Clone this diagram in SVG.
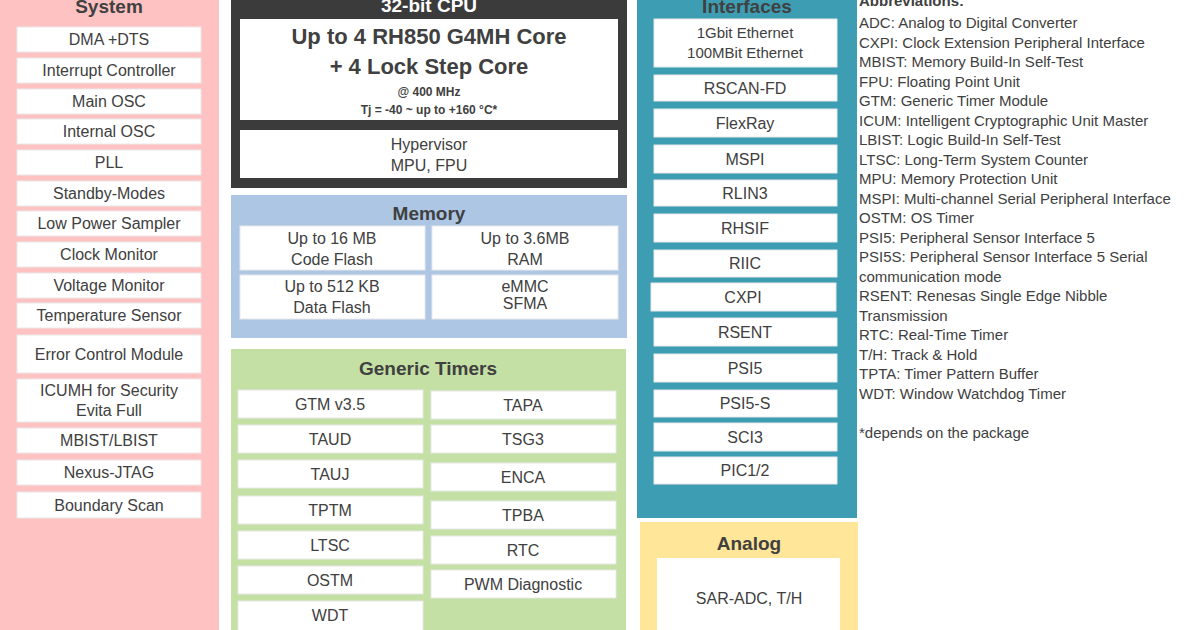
<svg xmlns="http://www.w3.org/2000/svg" width="1200" height="630" viewBox="0 0 1200 630">
<style>
text{font-family:"Liberation Sans",Arial,sans-serif;fill:#404040;text-anchor:middle}
.b{fill:#fff;stroke:#e8e8e8;stroke-width:1}
.t{font-size:16px}
.h{font-size:19px;font-weight:bold}
.a{font-size:15px;text-anchor:start}
</style>
<rect width="1200" height="630" fill="#fff"/>
<g id="system">
<rect x="0" y="-10" width="219" height="650" fill="#ffc2c2"/>
<text class="h" x="109" y="13">System</text>
<rect class="b" x="17" y="27" width="184" height="25"/><text class="t" x="109" y="45">DMA +DTS</text>
<rect class="b" x="17" y="58" width="184" height="25"/><text class="t" x="109" y="76">Interrupt Controller</text>
<rect class="b" x="17" y="89" width="184" height="25"/><text class="t" x="109" y="107">Main OSC</text>
<rect class="b" x="17" y="119" width="184" height="25"/><text class="t" x="109" y="137">Internal OSC</text>
<rect class="b" x="17" y="150" width="184" height="25"/><text class="t" x="109" y="168">PLL</text>
<rect class="b" x="17" y="181" width="184" height="25"/><text class="t" x="109" y="199">Standby-Modes</text>
<rect class="b" x="17" y="211" width="184" height="25"/><text class="t" x="109" y="229">Low Power Sampler</text>
<rect class="b" x="17" y="242" width="184" height="25"/><text class="t" x="109" y="260">Clock Monitor</text>
<rect class="b" x="17" y="273" width="184" height="25"/><text class="t" x="109" y="291">Voltage Monitor</text>
<rect class="b" x="17" y="303" width="184" height="25"/><text class="t" x="109" y="321">Temperature Sensor</text>
<rect class="b" x="17" y="335" width="184" height="38"/><text class="t" x="109" y="360">Error Control Module</text>
<rect class="b" x="17" y="379" width="184" height="43"/><text class="t" x="109" y="396">ICUMH for Security</text><text class="t" x="109" y="416">Evita Full</text>
<rect class="b" x="17" y="428" width="184" height="25"/><text class="t" x="109" y="446">MBIST/LBIST</text>
<rect class="b" x="17" y="460" width="184" height="25"/><text class="t" x="109" y="478">Nexus-JTAG</text>
<rect class="b" x="17" y="492" width="184" height="26"/><text class="t" x="109" y="511">Boundary Scan</text>
</g>
<g id="cpu">
<rect x="231" y="-10" width="396" height="198" fill="#3b3b3b"/>
<text class="h" x="429" y="12" style="fill:#fff">32-bit CPU</text>
<rect x="240" y="19" width="378" height="101" fill="#fff"/>
<text x="429" y="44" style="font-size:22px;font-weight:bold">Up to 4 RH850 G4MH Core</text>
<text x="429" y="74" style="font-size:22px;font-weight:bold">+ 4 Lock Step Core</text>
<text x="429" y="96" style="font-size:12px;font-weight:bold">@ 400 MHz</text>
<text x="429" y="114" style="font-size:12px;font-weight:bold">Tj = -40 ~  up to +160 °C*</text>
<rect x="240" y="130" width="378" height="48" fill="#fff"/>
<text class="t" x="429" y="150">Hypervisor</text><text class="t" x="429" y="171">MPU, FPU</text>
</g>
<g id="memory">
<rect x="231" y="195" width="396" height="143" fill="#adc6e4"/>
<text class="h" x="429" y="220">Memory</text>
<rect class="b" x="240" y="226" width="185" height="44"/><text class="t" x="332" y="244">Up to 16 MB</text><text class="t" x="332" y="265">Code Flash</text>
<rect class="b" x="432" y="226" width="186" height="44"/><text class="t" x="525" y="244">Up to 3.6MB</text><text class="t" x="525" y="265">RAM</text>
<rect class="b" x="240" y="275" width="185" height="44"/><text class="t" x="332" y="292">Up to 512 KB</text><text class="t" x="332" y="313">Data Flash</text>
<rect class="b" x="432" y="275" width="186" height="44"/><text class="t" x="525" y="292">eMMC</text><text class="t" x="525" y="309">SFMA</text>
</g>
<g id="timers">
<rect x="231" y="349" width="395" height="290" fill="#c5e0a5"/>
<text class="h" x="428" y="375">Generic Timers</text>
<rect class="b" x="238" y="390" width="185" height="28"/><text class="t" x="330" y="410">GTM v3.5</text>
<rect class="b" x="238" y="425" width="185" height="28"/><text class="t" x="330" y="445">TAUD</text>
<rect class="b" x="238" y="460" width="185" height="28"/><text class="t" x="330" y="480">TAUJ</text>
<rect class="b" x="238" y="496" width="185" height="28"/><text class="t" x="330" y="516">TPTM</text>
<rect class="b" x="238" y="531" width="185" height="28"/><text class="t" x="330" y="551">LTSC</text>
<rect class="b" x="238" y="566" width="185" height="28"/><text class="t" x="330" y="586">OSTM</text>
<rect class="b" x="238" y="601" width="185" height="35"/><text class="t" x="330" y="621">WDT</text>
<rect class="b" x="431" y="391" width="185" height="28"/><text class="t" x="523" y="411">TAPA</text>
<rect class="b" x="431" y="425" width="185" height="28"/><text class="t" x="523" y="445">TSG3</text>
<rect class="b" x="431" y="463" width="185" height="28"/><text class="t" x="523" y="483">ENCA</text>
<rect class="b" x="431" y="501" width="185" height="28"/><text class="t" x="523" y="521">TPBA</text>
<rect class="b" x="431" y="536" width="185" height="28"/><text class="t" x="523" y="556">RTC</text>
<rect class="b" x="431" y="570" width="185" height="28"/><text class="t" x="523" y="590">PWM Diagnostic</text>
</g>
<g id="interfaces">
<rect x="637" y="-10" width="220" height="528" fill="#3d9db3"/>
<text class="h" x="747" y="13">Interfaces</text>
<rect class="b" x="654" y="19" width="183" height="48"/><text x="745" y="38" style="font-size:15px">1Gbit Ethernet</text><text x="745" y="58" style="font-size:15px">100MBit Ethernet</text>
<rect class="b" x="654" y="75" width="183" height="26"/><text class="t" x="745" y="94">RSCAN-FD</text>
<rect class="b" x="654" y="109" width="183" height="28"/><text class="t" x="745" y="129">FlexRay</text>
<rect class="b" x="654" y="145" width="183" height="28"/><text class="t" x="745" y="165">MSPI</text>
<rect class="b" x="654" y="180" width="183" height="26"/><text class="t" x="745" y="199">RLIN3</text>
<rect class="b" x="654" y="214" width="183" height="28"/><text class="t" x="745" y="234">RHSIF</text>
<rect class="b" x="654" y="250" width="183" height="27"/><text class="t" x="745" y="269">RIIC</text>
<rect class="b" x="651" y="283" width="185" height="28"/><text class="t" x="743" y="303">CXPI</text>
<rect class="b" x="654" y="318" width="183" height="28"/><text class="t" x="745" y="338">RSENT</text>
<rect class="b" x="654" y="354" width="183" height="28"/><text class="t" x="745" y="374">PSI5</text>
<rect class="b" x="654" y="390" width="183" height="27"/><text class="t" x="745" y="409">PSI5-S</text>
<rect class="b" x="654" y="423" width="183" height="28"/><text class="t" x="745" y="443">SCI3</text>
<rect class="b" x="654" y="457" width="183" height="27"/><text class="t" x="745" y="476">PIC1/2</text>
</g>
<g id="analog">
<rect x="640" y="522" width="218" height="120" fill="#ffe699"/>
<text class="h" x="749" y="550">Analog</text>
<rect x="657" y="558" width="183" height="80" fill="#fff"/>
<text class="t" x="749" y="604">SAR-ADC, T/H</text>
</g>
<g id="abbreviations">
<text class="a" x="859" y="6" style="font-weight:bold">Abbreviations:</text>
<text class="a" x="859" y="28">ADC: Analog to Digital Converter</text>
<text class="a" x="859" y="48">CXPI: Clock Extension Peripheral Interface</text>
<text class="a" x="859" y="67">MBIST: Memory Build-In Self-Test</text>
<text class="a" x="859" y="87">FPU: Floating Point Unit</text>
<text class="a" x="859" y="106">GTM: Generic Timer Module</text>
<text class="a" x="859" y="126">ICUM: Intelligent Cryptographic Unit Master</text>
<text class="a" x="859" y="145">LBIST: Logic Build-In Self-Test</text>
<text class="a" x="859" y="165">LTSC: Long-Term System Counter</text>
<text class="a" x="859" y="184">MPU: Memory Protection Unit</text>
<text class="a" x="859" y="204">MSPI: Multi-channel Serial Peripheral Interface</text>
<text class="a" x="859" y="223">OSTM: OS Timer</text>
<text class="a" x="859" y="243">PSI5: Peripheral Sensor Interface 5</text>
<text class="a" x="859" y="262">PSI5S: Peripheral Sensor Interface 5 Serial</text>
<text class="a" x="859" y="282">communication mode</text>
<text class="a" x="859" y="301">RSENT: Renesas Single Edge Nibble</text>
<text class="a" x="859" y="321">Transmission</text>
<text class="a" x="859" y="340">RTC: Real-Time Timer</text>
<text class="a" x="859" y="360">T/H: Track &amp; Hold</text>
<text class="a" x="859" y="379">TPTA: Timer Pattern Buffer</text>
<text class="a" x="859" y="399">WDT: Window Watchdog Timer</text>
<text class="a" x="859" y="438">*depends on the package</text>
</g>
</svg>
